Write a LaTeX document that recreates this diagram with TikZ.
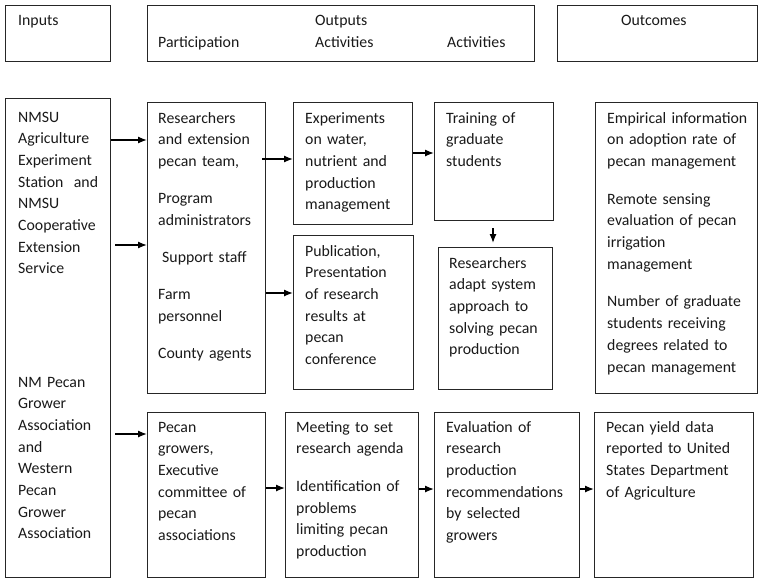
\documentclass[tikz,border=0pt]{standalone}
\usepackage{fontspec}
\setmainfont{Carlito}
\usetikzlibrary{arrows.meta}
\begin{document}
\begin{tikzpicture}[x=1pt,y=-1pt,
  box/.style={draw=black!85,line width=1.3pt,inner sep=0pt,anchor=north west},
  txt/.style={anchor=base west,inner sep=0pt,align=left,text width=155pt,text=black!90,font=\fontsize{15.8}{21.7}\selectfont},
  arr/.style={-{Latex[length=9pt,width=7pt]},line width=1.3pt}]
\useasboundingbox (0,0) rectangle (759,578);
% header boxes
\node[box,minimum width=105pt,minimum height=56pt] (hin) at (5,5) {};
\node[box,minimum width=387pt,minimum height=56pt] (hout) at (147,5) {};
\node[box,minimum width=200pt,minimum height=56pt] (hoc) at (557,5) {};
\node[txt] (tin) at (18,26) {Inputs};
\node[txt] (tout) at (315,26) {Outputs};
\node[txt] (tpart) at (158,48) {Participation};
\node[txt] (tact1) at (315,48) {Activities};
\node[txt] (tact2) at (447,48) {Activities};
\node[txt] (toc) at (621,26) {Outcomes};
% main boxes
\node[box,minimum width=105pt,minimum height=479pt] (in1) at (5,98) {};
\node[box,minimum width=118pt,minimum height=291pt] (pa) at (147,102) {};
\node[box,minimum width=119pt,minimum height=122pt] (ex) at (293,102) {};
\node[box,minimum width=120pt,minimum height=154pt] (pu) at (293,235) {};
\node[box,minimum width=119pt,minimum height=118pt] (tr) at (434,102) {};
\node[box,minimum width=114pt,minimum height=142pt] (ra) at (438,247) {};
\node[box,minimum width=162pt,minimum height=291pt] (oc) at (595,102) {};
\node[box,minimum width=118pt,minimum height=165pt] (pg) at (147,412) {};
\node[box,minimum width=133pt,minimum height=165pt] (me) at (285,412) {};
\node[box,minimum width=145pt,minimum height=165pt] (ev) at (434,412) {};
\node[box,minimum width=159pt,minimum height=165pt] (py) at (594,412) {};
% texts
\node[txt] (tin1) at (18,122) {NMSU\\Agriculture\\Experiment\\Station~ and\\NMSU\\Cooperative\\Extension\\Service};
\node[txt] (tin2) at (18,387) {NM Pecan\\Grower\\Association\\and\\Western\\Pecan\\Grower\\Association};
\node[txt] (tpa) at (158,123) {Researchers\\and extension\\pecan team,\\[15.5pt]Program\\administrators\\[15.5pt]\hspace*{4pt}Support staff\\[15.5pt]Farm\\personnel\\[15.5pt]County agents};
\node[txt] (tex) at (305,123) {Experiments\\on water,\\nutrient and\\production\\management};
\node[txt] (tpu) at (305,256) {Publication,\\Presentation\\of research\\results at\\pecan\\conference};
\node[txt] (ttr) at (446,123) {Training of\\graduate\\students};
\node[txt] (tra) at (449,268) {Researchers\\adapt system\\approach to\\solving pecan\\production};
\node[txt] (toc1) at (607,123) {Empirical information\\on adoption rate of\\pecan management\\[16pt]Remote sensing\\evaluation of pecan\\irrigation\\management\\[16pt]Number of graduate\\students receiving\\degrees related to\\pecan management};
\node[txt] (tpg) at (158,432) {Pecan\\growers,\\Executive\\committee of\\pecan\\associations};
\node[txt] (tme) at (296,432) {Meeting to set\\research agenda\\[16pt]Identification of\\problems\\limiting pecan\\production};
\node[txt] (tev) at (446,432) {Evaluation of\\research\\production\\recommendations\\by selected\\growers};
\node[txt] (tpy) at (606,432) {Pecan yield data\\reported to United\\States Department\\of Agriculture};
% arrows
\draw[arr] (in1.east |- 0,140) -- (pa.west |- 0,140);
\draw[arr,shorten <=4pt] (in1.east |- 0,245) -- (pa.west |- 0,245);
\draw[arr,shorten <=4pt] (in1.east |- 0,434) -- (pg.west |- 0,434);
\draw[arr,shorten <=-4pt] (pa.east |- 0,159) -- (ex.west |- 0,159);
\draw[arr] (pa.east |- 0,293) -- (pu.west |- 0,293);
\draw[arr] (ex.east |- 0,153) -- (tr.west |- 0,153);
\draw[arr,shorten <=7pt,shorten >=4pt] (tr.south -| 493,0) -- (ra.north -| 493,0);
\draw[arr] (pg.east |- 0,488) -- (me.west |- 0,488);
\draw[arr] (me.east |- 0,489) -- (ev.west |- 0,489);
\draw[arr] (ev.east |- 0,489) -- (py.west |- 0,489);
\end{tikzpicture}
\end{document}
